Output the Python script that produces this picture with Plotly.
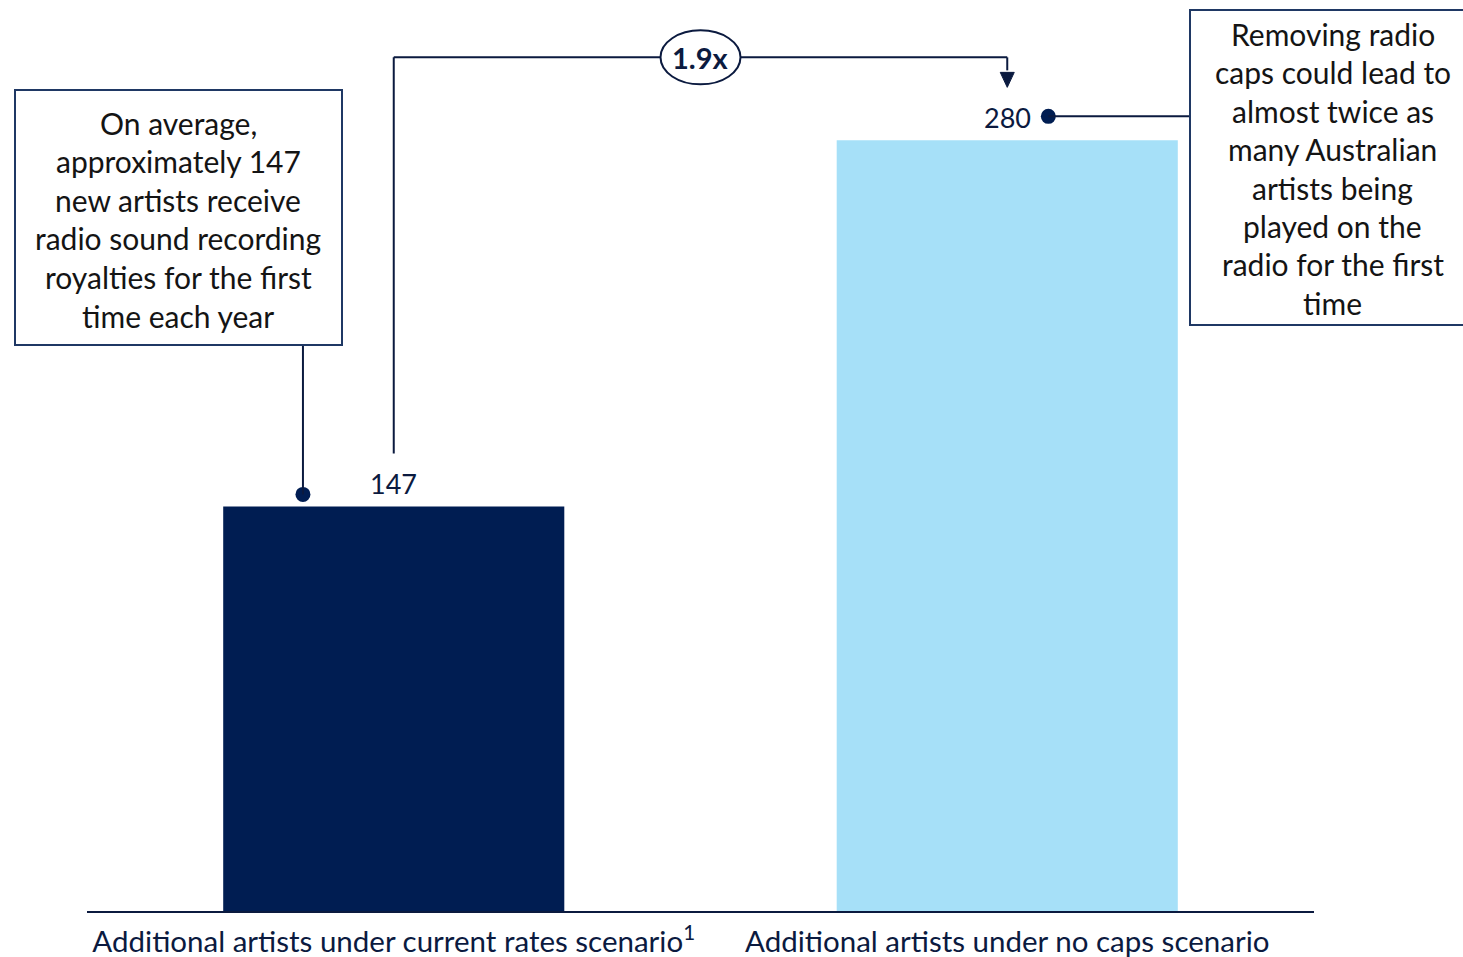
import plotly.graph_objects as go

# --- data -------------------------------------------------------------
categories = [
    "Additional artists under current rates scenario<sup>1</sup>",
    "Additional artists under no caps scenario",
]
values = [147, 280]
bar_colors = ["#001D52", "#A6E0F8"]
ratio_label = f"{values[1] / values[0]:.1f}x"

left_note = [
    "On average,",
    "approximately 147",
    "new artists receive",
    "radio sound recording",
    "royalties for the first",
    "time each year",
]
right_note = [
    "Removing radio",
    "caps could lead to",
    "almost twice as",
    "many Australian",
    "artists being",
    "played on the",
    "radio for the first",
    "time",
]

# --- layout geometry --------------------------------------------------
W, H = 1463, 957
ML, MR, MT, MB = 87, 149, 0, 46
Y_MAX = 331
PLOT_W = W - ML - MR
PLOT_H = H - MT - MB
PPU = PLOT_H / Y_MAX  # pixels per unit on the value axis

NAVY = "#001D52"
LINE = "#0B1A3F"
TEXT = "#141414"
FONT = "Lato"


def px(x):
    """pixel x -> paper x"""
    return (x - ML) / PLOT_W


def py(y):
    """pixel y -> paper y"""
    return (H - MB - y) / PLOT_H


def up(pixels):
    """pixel distance -> value-axis units"""
    return pixels / PPU


fig = go.Figure()

fig.add_trace(go.Bar(
    x=[0, 1], y=values, marker=dict(color=bar_colors, line_width=0),
    width=0.556, hoverinfo="skip",
))

shapes = []
annotations = []

# value labels above bars
for i, v in enumerate(values):
    annotations.append(dict(
        x=i, y=v, xref="x", yref="y", text=str(v), showarrow=False,
        xanchor="center", yanchor="bottom", yshift=4,
        font=dict(family=FONT, size=27, color=LINE),
    ))

# bracket connecting the two bars with the ratio bubble
bracket_y = values[1] + up(83)
shapes += [
    dict(type="line", xref="x", yref="y", x0=0, x1=0,
         y0=values[0] + up(53), y1=bracket_y, line=dict(color=LINE, width=2)),
    dict(type="line", xref="x", yref="y", x0=0, x1=1,
         y0=bracket_y, y1=bracket_y, line=dict(color=LINE, width=2)),
    dict(type="line", xref="x", yref="y", x0=1, x1=1,
         y0=bracket_y, y1=values[1] + up(70), line=dict(color=LINE, width=2)),
    dict(type="path", xref="x", yref="y", xsizemode="pixel", ysizemode="pixel",
         xanchor=1, yanchor=values[1],
         path="M -7,68 L 7,68 L 0,53 Z", fillcolor=LINE, line=dict(color=LINE, width=1)),
    dict(type="circle", xref="x", yref="y", xsizemode="pixel", ysizemode="pixel",
         xanchor=0.5, yanchor=bracket_y, x0=-40, x1=40, y0=-27, y1=27,
         fillcolor="white", line=dict(color=LINE, width=2)),
]
annotations.append(dict(
    x=0.5, y=bracket_y, xref="x", yref="y", text=f"<b>{ratio_label}</b>",
    showarrow=False, xanchor="center", yanchor="middle",
    font=dict(family=FONT, size=29, color=LINE),
))

# callout dots
dot_x = [-0.148, 1.067]
dot_y = [values[0] + up(12), values[1] + up(24)]
fig.add_trace(go.Scatter(
    x=dot_x, y=dot_y, mode="markers", hoverinfo="skip",
    marker=dict(color=NAVY, size=15),
))

# left callout: connector + box + text
shapes.append(dict(type="line", xref="x", yref="y", x0=dot_x[0], x1=dot_x[0],
                   y0=dot_y[0], y1=(H - MB - 345) / PPU,
                   line=dict(color=LINE, width=2)))
shapes.append(dict(type="rect", xref="paper", yref="paper",
                   x0=px(15), x1=px(342), y0=py(345), y1=py(90),
                   line=dict(color="#1F3864", width=2), fillcolor="white"))
for k, t in enumerate(left_note):
    annotations.append(dict(
        x=px(178), y=py(123 + 38.5 * k), xref="paper", yref="paper", text=t,
        showarrow=False, xanchor="center", yanchor="middle",
        font=dict(family=FONT, size=30, color=TEXT),
    ))

# right callout: connector + box + text
dot2_px = ML + (dot_x[1] + 0.5) * PLOT_W / 2
shapes.append(dict(type="line", xref="x", yref="y", xsizemode="pixel",
                   xanchor=dot_x[1], x0=0, x1=1190 - dot2_px,
                   y0=dot_y[1], y1=dot_y[1], line=dict(color=LINE, width=2)))
shapes.append(dict(type="rect", xref="paper", yref="paper",
                   x0=px(1190), x1=px(1475), y0=py(325), y1=py(10),
                   line=dict(color="#1F3864", width=2), fillcolor="white"))
for k, t in enumerate(right_note):
    annotations.append(dict(
        x=px(1333), y=py(34 + 38.4 * k), xref="paper", yref="paper", text=t,
        showarrow=False, xanchor="center", yanchor="middle",
        font=dict(family=FONT, size=30, color=TEXT),
    ))

fig.update_layout(
    width=W, height=H,
    margin=dict(l=ML, r=MR, t=MT, b=MB, autoexpand=False),
    paper_bgcolor="white", plot_bgcolor="white",
    showlegend=False, bargap=0.444,
    shapes=shapes, annotations=annotations,
    xaxis=dict(
        range=[-0.5, 1.5], tickvals=[0, 1], ticktext=categories,
        showline=True, linecolor=LINE, linewidth=2, showgrid=False, zeroline=False,
        ticks="outside", ticklen=4, tickcolor="rgba(0,0,0,0)", automargin=False,
        tickfont=dict(family=FONT, size=29.5, color=LINE), fixedrange=True,
    ),
    yaxis=dict(range=[0, Y_MAX], visible=False, fixedrange=True),
)

fig.write_html("out.html")
